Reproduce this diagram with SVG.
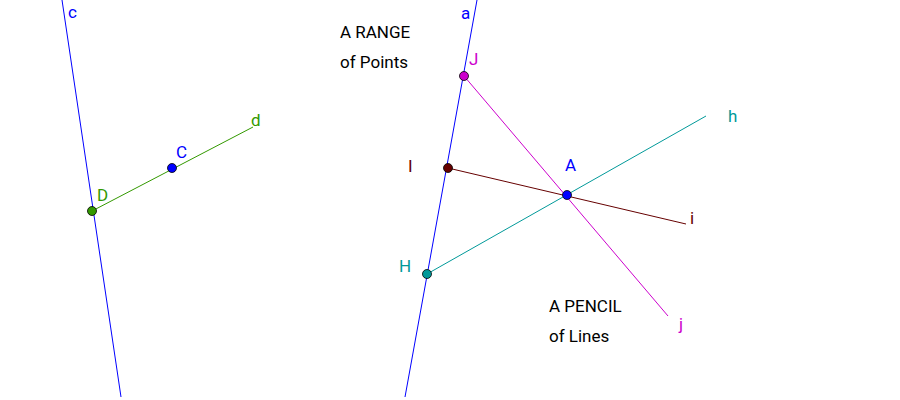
<svg xmlns="http://www.w3.org/2000/svg" width="900" height="400" viewBox="0 0 900 400">
<style>
text{font-family:Roboto,"Liberation Sans",sans-serif;font-size:17px}
.pt{stroke:#000;stroke-width:0.8}
</style>
<rect width="900" height="400" fill="#fff"/>
<g id="connectors" stroke-width="1">
<line x1="62" y1="0" x2="121" y2="397" stroke="#0000ff"/>
<line x1="477" y1="0" x2="405" y2="397" stroke="#0000ff"/>
<line x1="92" y1="211" x2="253" y2="127" stroke="#339900"/>
<line x1="464" y1="76" x2="668" y2="316" stroke="#cc00cc"/>
<line x1="448" y1="168" x2="686" y2="224" stroke="#660000"/>
<line x1="427" y1="274" x2="706" y2="116" stroke="#009999"/>
</g>
<g id="labels">
<text x="68" y="18" fill="#0000ff">c</text>
<text x="461" y="19" fill="#0000ff">a</text>
<text x="251" y="126" fill="#339900">d</text>
<text x="728" y="122" fill="#009999">h</text>
<text x="690" y="224" fill="#660000">i</text>
<text x="679" y="330" fill="#cc00cc">j</text>
<text x="340" y="38" fill="#000">A RANGE</text>
<text x="340" y="68" fill="#000">of Points</text>
<text x="549" y="312" fill="#000">A PENCIL</text>
<text x="549" y="342" fill="#000">of Lines</text>
</g>
<g id="D"><circle cx="92" cy="211" r="4.5" fill="#339900" class="pt"/><text x="97" y="201" fill="#339900">D</text></g>
<g id="C"><circle cx="172" cy="168" r="4.5" fill="#0000ff" class="pt"/><text x="176" y="158" fill="#0000ff">C</text></g>
<g id="J"><circle cx="464" cy="76" r="4.5" fill="#cc00cc" class="pt"/><text x="469" y="65" fill="#cc00cc">J</text></g>
<g id="I"><circle cx="448" cy="168" r="4.5" fill="#660000" class="pt"/><text x="408" y="172" fill="#660000">I</text></g>
<g id="H"><circle cx="427" cy="274" r="4.5" fill="#009999" class="pt"/><text x="399" y="272" fill="#009999">H</text></g>
<g id="A"><circle cx="567" cy="195" r="4.5" fill="#0000ff" class="pt"/><text x="565" y="171" fill="#0000ff">A</text></g>
</svg>
